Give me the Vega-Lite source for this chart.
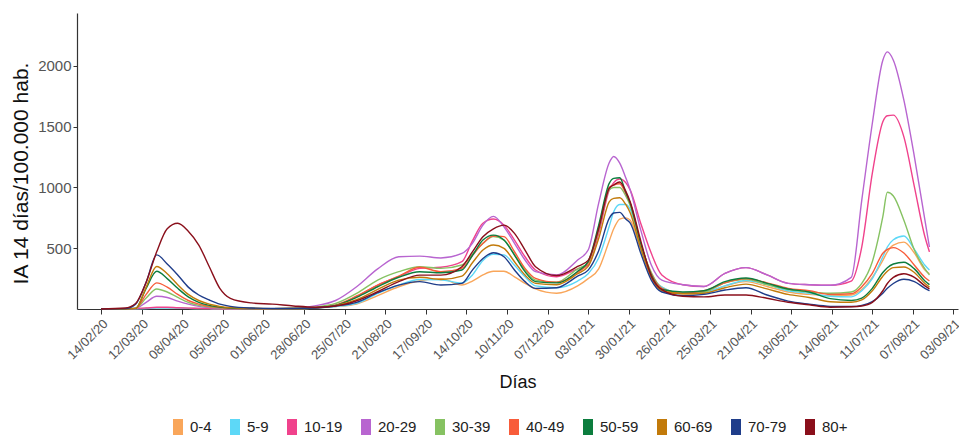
{
"$schema": "https://vega.github.io/schema/vega-lite/v6.json",
"width": 881, "height": 296,
"autosize": {"type": "none"},
"padding": {"left": 77, "top": 13, "right": 1, "bottom": 127},
"background": "white",
"config": {"view": {"stroke": null}, "font": "Liberation Sans"},
"data": {"values": [
{"g":"0-4","d":"2020-02-14","v":0},{"g":"0-4","d":"2020-03-01","v":1},{"g":"0-4","d":"2020-03-08","v":3},{"g":"0-4","d":"2020-03-15","v":6},{"g":"0-4","d":"2020-03-22","v":10},{"g":"0-4","d":"2020-03-29","v":10},{"g":"0-4","d":"2020-04-05","v":8},{"g":"0-4","d":"2020-04-12","v":6},{"g":"0-4","d":"2020-04-19","v":4},{"g":"0-4","d":"2020-04-26","v":3},{"g":"0-4","d":"2020-05-03","v":2},{"g":"0-4","d":"2020-05-10","v":2},{"g":"0-4","d":"2020-05-24","v":2},{"g":"0-4","d":"2020-06-07","v":2},{"g":"0-4","d":"2020-06-21","v":3},{"g":"0-4","d":"2020-07-05","v":8},{"g":"0-4","d":"2020-07-19","v":20},{"g":"0-4","d":"2020-08-02","v":41},{"g":"0-4","d":"2020-08-16","v":110},{"g":"0-4","d":"2020-08-30","v":183},{"g":"0-4","d":"2020-09-13","v":232},{"g":"0-4","d":"2020-09-27","v":250},{"g":"0-4","d":"2020-10-11","v":197},{"g":"0-4","d":"2020-10-18","v":230},{"g":"0-4","d":"2020-10-25","v":280},{"g":"0-4","d":"2020-11-01","v":310},{"g":"0-4","d":"2020-11-08","v":310},{"g":"0-4","d":"2020-11-15","v":265},{"g":"0-4","d":"2020-11-22","v":210},{"g":"0-4","d":"2020-11-29","v":165},{"g":"0-4","d":"2020-12-13","v":130},{"g":"0-4","d":"2020-12-27","v":190},{"g":"0-4","d":"2021-01-03","v":250},{"g":"0-4","d":"2021-01-10","v":330},{"g":"0-4","d":"2021-01-17","v":560},{"g":"0-4","d":"2021-01-20","v":660},{"g":"0-4","d":"2021-01-24","v":740},{"g":"0-4","d":"2021-01-28","v":750},{"g":"0-4","d":"2021-01-31","v":730},{"g":"0-4","d":"2021-02-07","v":490},{"g":"0-4","d":"2021-02-14","v":270},{"g":"0-4","d":"2021-02-21","v":180},{"g":"0-4","d":"2021-03-07","v":125},{"g":"0-4","d":"2021-03-21","v":130},{"g":"0-4","d":"2021-04-04","v":190},{"g":"0-4","d":"2021-04-18","v":225},{"g":"0-4","d":"2021-05-02","v":185},{"g":"0-4","d":"2021-05-16","v":140},{"g":"0-4","d":"2021-05-30","v":120},{"g":"0-4","d":"2021-06-13","v":110},{"g":"0-4","d":"2021-06-27","v":115},{"g":"0-4","d":"2021-07-04","v":160},{"g":"0-4","d":"2021-07-11","v":260},{"g":"0-4","d":"2021-07-18","v":400},{"g":"0-4","d":"2021-07-21","v":470},{"g":"0-4","d":"2021-07-25","v":525},{"g":"0-4","d":"2021-08-01","v":550},{"g":"0-4","d":"2021-08-08","v":460},{"g":"0-4","d":"2021-08-15","v":320},{"g":"0-4","d":"2021-08-18","v":290},
{"g":"5-9","d":"2020-02-14","v":0},{"g":"5-9","d":"2020-03-01","v":1},{"g":"5-9","d":"2020-03-08","v":2},{"g":"5-9","d":"2020-03-15","v":4},{"g":"5-9","d":"2020-03-22","v":7},{"g":"5-9","d":"2020-03-29","v":8},{"g":"5-9","d":"2020-04-05","v":7},{"g":"5-9","d":"2020-04-12","v":5},{"g":"5-9","d":"2020-04-19","v":4},{"g":"5-9","d":"2020-04-26","v":3},{"g":"5-9","d":"2020-05-03","v":2},{"g":"5-9","d":"2020-05-10","v":2},{"g":"5-9","d":"2020-05-24","v":2},{"g":"5-9","d":"2020-06-07","v":2},{"g":"5-9","d":"2020-06-21","v":3},{"g":"5-9","d":"2020-07-05","v":8},{"g":"5-9","d":"2020-07-19","v":20},{"g":"5-9","d":"2020-08-02","v":46},{"g":"5-9","d":"2020-08-16","v":128},{"g":"5-9","d":"2020-08-30","v":197},{"g":"5-9","d":"2020-09-13","v":243},{"g":"5-9","d":"2020-09-27","v":240},{"g":"5-9","d":"2020-10-11","v":215},{"g":"5-9","d":"2020-10-18","v":280},{"g":"5-9","d":"2020-10-25","v":400},{"g":"5-9","d":"2020-11-01","v":450},{"g":"5-9","d":"2020-11-08","v":445},{"g":"5-9","d":"2020-11-15","v":360},{"g":"5-9","d":"2020-11-22","v":265},{"g":"5-9","d":"2020-11-29","v":190},{"g":"5-9","d":"2020-12-13","v":175},{"g":"5-9","d":"2020-12-27","v":230},{"g":"5-9","d":"2021-01-03","v":290},{"g":"5-9","d":"2021-01-10","v":420},{"g":"5-9","d":"2021-01-17","v":680},{"g":"5-9","d":"2021-01-20","v":800},{"g":"5-9","d":"2021-01-24","v":860},{"g":"5-9","d":"2021-01-28","v":860},{"g":"5-9","d":"2021-01-31","v":820},{"g":"5-9","d":"2021-02-07","v":510},{"g":"5-9","d":"2021-02-14","v":290},{"g":"5-9","d":"2021-02-21","v":180},{"g":"5-9","d":"2021-03-07","v":130},{"g":"5-9","d":"2021-03-21","v":140},{"g":"5-9","d":"2021-04-04","v":190},{"g":"5-9","d":"2021-04-18","v":235},{"g":"5-9","d":"2021-05-02","v":200},{"g":"5-9","d":"2021-05-16","v":150},{"g":"5-9","d":"2021-05-30","v":130},{"g":"5-9","d":"2021-06-13","v":105},{"g":"5-9","d":"2021-06-27","v":100},{"g":"5-9","d":"2021-07-04","v":150},{"g":"5-9","d":"2021-07-11","v":250},{"g":"5-9","d":"2021-07-18","v":430},{"g":"5-9","d":"2021-07-21","v":510},{"g":"5-9","d":"2021-07-25","v":570},{"g":"5-9","d":"2021-08-01","v":600},{"g":"5-9","d":"2021-08-08","v":490},{"g":"5-9","d":"2021-08-15","v":360},{"g":"5-9","d":"2021-08-18","v":320},
{"g":"10-19","d":"2020-02-14","v":0},{"g":"10-19","d":"2020-03-01","v":1},{"g":"10-19","d":"2020-03-08","v":3},{"g":"10-19","d":"2020-03-15","v":8},{"g":"10-19","d":"2020-03-22","v":14},{"g":"10-19","d":"2020-03-29","v":14},{"g":"10-19","d":"2020-04-05","v":10},{"g":"10-19","d":"2020-04-12","v":7},{"g":"10-19","d":"2020-04-19","v":5},{"g":"10-19","d":"2020-04-26","v":3},{"g":"10-19","d":"2020-05-03","v":2},{"g":"10-19","d":"2020-05-10","v":2},{"g":"10-19","d":"2020-05-24","v":2},{"g":"10-19","d":"2020-06-07","v":2},{"g":"10-19","d":"2020-06-21","v":3},{"g":"10-19","d":"2020-07-05","v":10},{"g":"10-19","d":"2020-07-19","v":30},{"g":"10-19","d":"2020-08-02","v":101},{"g":"10-19","d":"2020-08-16","v":197},{"g":"10-19","d":"2020-08-30","v":266},{"g":"10-19","d":"2020-09-13","v":334},{"g":"10-19","d":"2020-09-27","v":343},{"g":"10-19","d":"2020-10-11","v":389},{"g":"10-19","d":"2020-10-18","v":560},{"g":"10-19","d":"2020-10-25","v":705},{"g":"10-19","d":"2020-11-01","v":740},{"g":"10-19","d":"2020-11-08","v":690},{"g":"10-19","d":"2020-11-15","v":567},{"g":"10-19","d":"2020-11-22","v":430},{"g":"10-19","d":"2020-11-29","v":321},{"g":"10-19","d":"2020-12-13","v":265},{"g":"10-19","d":"2020-12-27","v":330},{"g":"10-19","d":"2021-01-03","v":360},{"g":"10-19","d":"2021-01-10","v":620},{"g":"10-19","d":"2021-01-17","v":978},{"g":"10-19","d":"2021-01-20","v":1040},{"g":"10-19","d":"2021-01-24","v":1070},{"g":"10-19","d":"2021-01-28","v":1040},{"g":"10-19","d":"2021-01-31","v":978},{"g":"10-19","d":"2021-02-07","v":704},{"g":"10-19","d":"2021-02-14","v":458},{"g":"10-19","d":"2021-02-21","v":280},{"g":"10-19","d":"2021-03-07","v":200},{"g":"10-19","d":"2021-03-21","v":185},{"g":"10-19","d":"2021-04-04","v":293},{"g":"10-19","d":"2021-04-18","v":340},{"g":"10-19","d":"2021-05-02","v":280},{"g":"10-19","d":"2021-05-16","v":211},{"g":"10-19","d":"2021-05-30","v":200},{"g":"10-19","d":"2021-06-13","v":195},{"g":"10-19","d":"2021-06-27","v":230},{"g":"10-19","d":"2021-07-04","v":512},{"g":"10-19","d":"2021-07-11","v":1115},{"g":"10-19","d":"2021-07-18","v":1540},{"g":"10-19","d":"2021-07-21","v":1590},{"g":"10-19","d":"2021-07-25","v":1595},{"g":"10-19","d":"2021-08-01","v":1416},{"g":"10-19","d":"2021-08-08","v":1005},{"g":"10-19","d":"2021-08-15","v":594},{"g":"10-19","d":"2021-08-18","v":470},
{"g":"20-29","d":"2020-02-14","v":0},{"g":"20-29","d":"2020-03-01","v":1},{"g":"20-29","d":"2020-03-08","v":5},{"g":"20-29","d":"2020-03-15","v":55},{"g":"20-29","d":"2020-03-22","v":105},{"g":"20-29","d":"2020-03-29","v":95},{"g":"20-29","d":"2020-04-05","v":65},{"g":"20-29","d":"2020-04-12","v":40},{"g":"20-29","d":"2020-04-19","v":22},{"g":"20-29","d":"2020-04-26","v":12},{"g":"20-29","d":"2020-05-03","v":7},{"g":"20-29","d":"2020-05-10","v":4},{"g":"20-29","d":"2020-05-24","v":3},{"g":"20-29","d":"2020-06-07","v":3},{"g":"20-29","d":"2020-06-21","v":5},{"g":"20-29","d":"2020-07-05","v":25},{"g":"20-29","d":"2020-07-19","v":70},{"g":"20-29","d":"2020-08-02","v":183},{"g":"20-29","d":"2020-08-16","v":330},{"g":"20-29","d":"2020-08-30","v":430},{"g":"20-29","d":"2020-09-13","v":435},{"g":"20-29","d":"2020-09-27","v":420},{"g":"20-29","d":"2020-10-11","v":457},{"g":"20-29","d":"2020-10-18","v":540},{"g":"20-29","d":"2020-10-25","v":690},{"g":"20-29","d":"2020-11-01","v":762},{"g":"20-29","d":"2020-11-08","v":676},{"g":"20-29","d":"2020-11-15","v":540},{"g":"20-29","d":"2020-11-22","v":403},{"g":"20-29","d":"2020-11-29","v":307},{"g":"20-29","d":"2020-12-13","v":280},{"g":"20-29","d":"2020-12-27","v":403},{"g":"20-29","d":"2021-01-03","v":485},{"g":"20-29","d":"2021-01-10","v":871},{"g":"20-29","d":"2021-01-17","v":1203},{"g":"20-29","d":"2021-01-20","v":1255},{"g":"20-29","d":"2021-01-24","v":1200},{"g":"20-29","d":"2021-01-28","v":1080},{"g":"20-29","d":"2021-01-31","v":978},{"g":"20-29","d":"2021-02-07","v":649},{"g":"20-29","d":"2021-02-14","v":362},{"g":"20-29","d":"2021-02-21","v":238},{"g":"20-29","d":"2021-03-07","v":200},{"g":"20-29","d":"2021-03-21","v":185},{"g":"20-29","d":"2021-04-04","v":293},{"g":"20-29","d":"2021-04-18","v":340},{"g":"20-29","d":"2021-05-02","v":280},{"g":"20-29","d":"2021-05-16","v":211},{"g":"20-29","d":"2021-05-30","v":200},{"g":"20-29","d":"2021-06-13","v":195},{"g":"20-29","d":"2021-06-27","v":260},{"g":"20-29","d":"2021-07-04","v":896},{"g":"20-29","d":"2021-07-11","v":1526},{"g":"20-29","d":"2021-07-18","v":2047},{"g":"20-29","d":"2021-07-21","v":2115},{"g":"20-29","d":"2021-07-25","v":2047},{"g":"20-29","d":"2021-08-01","v":1718},{"g":"20-29","d":"2021-08-08","v":1252},{"g":"20-29","d":"2021-08-15","v":731},{"g":"20-29","d":"2021-08-18","v":510},
{"g":"30-39","d":"2020-02-14","v":0},{"g":"30-39","d":"2020-03-01","v":1},{"g":"30-39","d":"2020-03-08","v":5},{"g":"30-39","d":"2020-03-15","v":90},{"g":"30-39","d":"2020-03-22","v":165},{"g":"30-39","d":"2020-03-29","v":140},{"g":"30-39","d":"2020-04-05","v":95},{"g":"30-39","d":"2020-04-12","v":55},{"g":"30-39","d":"2020-04-19","v":30},{"g":"30-39","d":"2020-04-26","v":17},{"g":"30-39","d":"2020-05-03","v":9},{"g":"30-39","d":"2020-05-10","v":5},{"g":"30-39","d":"2020-05-24","v":3},{"g":"30-39","d":"2020-06-07","v":3},{"g":"30-39","d":"2020-06-21","v":4},{"g":"30-39","d":"2020-07-05","v":15},{"g":"30-39","d":"2020-07-19","v":45},{"g":"30-39","d":"2020-08-02","v":128},{"g":"30-39","d":"2020-08-16","v":238},{"g":"30-39","d":"2020-08-30","v":307},{"g":"30-39","d":"2020-09-13","v":348},{"g":"30-39","d":"2020-09-27","v":334},{"g":"30-39","d":"2020-10-11","v":362},{"g":"30-39","d":"2020-10-18","v":450},{"g":"30-39","d":"2020-10-25","v":540},{"g":"30-39","d":"2020-11-01","v":595},{"g":"30-39","d":"2020-11-08","v":567},{"g":"30-39","d":"2020-11-15","v":444},{"g":"30-39","d":"2020-11-22","v":321},{"g":"30-39","d":"2020-11-29","v":238},{"g":"30-39","d":"2020-12-13","v":220},{"g":"30-39","d":"2020-12-27","v":330},{"g":"30-39","d":"2021-01-03","v":380},{"g":"30-39","d":"2021-01-10","v":650},{"g":"30-39","d":"2021-01-17","v":980},{"g":"30-39","d":"2021-01-20","v":1000},{"g":"30-39","d":"2021-01-24","v":1000},{"g":"30-39","d":"2021-01-28","v":930},{"g":"30-39","d":"2021-01-31","v":850},{"g":"30-39","d":"2021-02-07","v":530},{"g":"30-39","d":"2021-02-14","v":300},{"g":"30-39","d":"2021-02-21","v":170},{"g":"30-39","d":"2021-03-07","v":130},{"g":"30-39","d":"2021-03-21","v":140},{"g":"30-39","d":"2021-04-04","v":215},{"g":"30-39","d":"2021-04-18","v":245},{"g":"30-39","d":"2021-05-02","v":200},{"g":"30-39","d":"2021-05-16","v":160},{"g":"30-39","d":"2021-05-30","v":140},{"g":"30-39","d":"2021-06-13","v":130},{"g":"30-39","d":"2021-06-27","v":140},{"g":"30-39","d":"2021-07-04","v":211},{"g":"30-39","d":"2021-07-11","v":389},{"g":"30-39","d":"2021-07-18","v":760},{"g":"30-39","d":"2021-07-21","v":960},{"g":"30-39","d":"2021-07-25","v":930},{"g":"30-39","d":"2021-08-01","v":731},{"g":"30-39","d":"2021-08-08","v":485},{"g":"30-39","d":"2021-08-15","v":330},{"g":"30-39","d":"2021-08-18","v":280},
{"g":"40-49","d":"2020-02-14","v":0},{"g":"40-49","d":"2020-03-01","v":1},{"g":"40-49","d":"2020-03-08","v":5},{"g":"40-49","d":"2020-03-15","v":120},{"g":"40-49","d":"2020-03-22","v":215},{"g":"40-49","d":"2020-03-29","v":180},{"g":"40-49","d":"2020-04-05","v":120},{"g":"40-49","d":"2020-04-12","v":70},{"g":"40-49","d":"2020-04-19","v":40},{"g":"40-49","d":"2020-04-26","v":22},{"g":"40-49","d":"2020-05-03","v":12},{"g":"40-49","d":"2020-05-10","v":6},{"g":"40-49","d":"2020-05-24","v":4},{"g":"40-49","d":"2020-06-07","v":3},{"g":"40-49","d":"2020-06-21","v":4},{"g":"40-49","d":"2020-07-05","v":10},{"g":"40-49","d":"2020-07-19","v":32},{"g":"40-49","d":"2020-08-02","v":107},{"g":"40-49","d":"2020-08-16","v":197},{"g":"40-49","d":"2020-08-30","v":271},{"g":"40-49","d":"2020-09-13","v":343},{"g":"40-49","d":"2020-09-27","v":307},{"g":"40-49","d":"2020-10-11","v":334},{"g":"40-49","d":"2020-10-18","v":440},{"g":"40-49","d":"2020-10-25","v":540},{"g":"40-49","d":"2020-11-01","v":600},{"g":"40-49","d":"2020-11-08","v":595},{"g":"40-49","d":"2020-11-15","v":471},{"g":"40-49","d":"2020-11-22","v":334},{"g":"40-49","d":"2020-11-29","v":252},{"g":"40-49","d":"2020-12-13","v":220},{"g":"40-49","d":"2020-12-27","v":300},{"g":"40-49","d":"2021-01-03","v":380},{"g":"40-49","d":"2021-01-10","v":670},{"g":"40-49","d":"2021-01-17","v":1000},{"g":"40-49","d":"2021-01-20","v":1020},{"g":"40-49","d":"2021-01-24","v":1030},{"g":"40-49","d":"2021-01-28","v":950},{"g":"40-49","d":"2021-01-31","v":870},{"g":"40-49","d":"2021-02-07","v":540},{"g":"40-49","d":"2021-02-14","v":290},{"g":"40-49","d":"2021-02-21","v":170},{"g":"40-49","d":"2021-03-07","v":130},{"g":"40-49","d":"2021-03-21","v":150},{"g":"40-49","d":"2021-04-04","v":215},{"g":"40-49","d":"2021-04-18","v":250},{"g":"40-49","d":"2021-05-02","v":215},{"g":"40-49","d":"2021-05-16","v":170},{"g":"40-49","d":"2021-05-30","v":150},{"g":"40-49","d":"2021-06-13","v":120},{"g":"40-49","d":"2021-06-27","v":125},{"g":"40-49","d":"2021-07-04","v":183},{"g":"40-49","d":"2021-07-11","v":293},{"g":"40-49","d":"2021-07-18","v":458},{"g":"40-49","d":"2021-07-21","v":490},{"g":"40-49","d":"2021-07-25","v":505},{"g":"40-49","d":"2021-08-01","v":460},{"g":"40-49","d":"2021-08-08","v":360},{"g":"40-49","d":"2021-08-15","v":260},{"g":"40-49","d":"2021-08-18","v":230},
{"g":"50-59","d":"2020-02-14","v":0},{"g":"50-59","d":"2020-03-01","v":1},{"g":"50-59","d":"2020-03-08","v":5},{"g":"50-59","d":"2020-03-15","v":170},{"g":"50-59","d":"2020-03-22","v":310},{"g":"50-59","d":"2020-03-29","v":250},{"g":"50-59","d":"2020-04-05","v":170},{"g":"50-59","d":"2020-04-12","v":100},{"g":"50-59","d":"2020-04-19","v":55},{"g":"50-59","d":"2020-04-26","v":30},{"g":"50-59","d":"2020-05-03","v":15},{"g":"50-59","d":"2020-05-10","v":8},{"g":"50-59","d":"2020-05-24","v":4},{"g":"50-59","d":"2020-06-07","v":3},{"g":"50-59","d":"2020-06-21","v":4},{"g":"50-59","d":"2020-07-05","v":10},{"g":"50-59","d":"2020-07-19","v":30},{"g":"50-59","d":"2020-08-02","v":96},{"g":"50-59","d":"2020-08-16","v":183},{"g":"50-59","d":"2020-08-30","v":261},{"g":"50-59","d":"2020-09-13","v":307},{"g":"50-59","d":"2020-09-27","v":298},{"g":"50-59","d":"2020-10-11","v":321},{"g":"50-59","d":"2020-10-18","v":440},{"g":"50-59","d":"2020-10-25","v":567},{"g":"50-59","d":"2020-11-01","v":608},{"g":"50-59","d":"2020-11-08","v":567},{"g":"50-59","d":"2020-11-15","v":444},{"g":"50-59","d":"2020-11-22","v":307},{"g":"50-59","d":"2020-11-29","v":225},{"g":"50-59","d":"2020-12-13","v":215},{"g":"50-59","d":"2020-12-27","v":310},{"g":"50-59","d":"2021-01-03","v":390},{"g":"50-59","d":"2021-01-10","v":690},{"g":"50-59","d":"2021-01-17","v":1033},{"g":"50-59","d":"2021-01-20","v":1075},{"g":"50-59","d":"2021-01-24","v":1080},{"g":"50-59","d":"2021-01-28","v":960},{"g":"50-59","d":"2021-01-31","v":869},{"g":"50-59","d":"2021-02-07","v":540},{"g":"50-59","d":"2021-02-14","v":280},{"g":"50-59","d":"2021-02-21","v":160},{"g":"50-59","d":"2021-03-07","v":140},{"g":"50-59","d":"2021-03-21","v":150},{"g":"50-59","d":"2021-04-04","v":225},{"g":"50-59","d":"2021-04-18","v":255},{"g":"50-59","d":"2021-05-02","v":211},{"g":"50-59","d":"2021-05-16","v":165},{"g":"50-59","d":"2021-05-30","v":140},{"g":"50-59","d":"2021-06-13","v":85},{"g":"50-59","d":"2021-06-27","v":70},{"g":"50-59","d":"2021-07-04","v":90},{"g":"50-59","d":"2021-07-11","v":170},{"g":"50-59","d":"2021-07-18","v":300},{"g":"50-59","d":"2021-07-21","v":340},{"g":"50-59","d":"2021-07-25","v":370},{"g":"50-59","d":"2021-08-01","v":385},{"g":"50-59","d":"2021-08-08","v":330},{"g":"50-59","d":"2021-08-15","v":230},{"g":"50-59","d":"2021-08-18","v":200},
{"g":"60-69","d":"2020-02-14","v":0},{"g":"60-69","d":"2020-03-01","v":1},{"g":"60-69","d":"2020-03-08","v":5},{"g":"60-69","d":"2020-03-15","v":180},{"g":"60-69","d":"2020-03-22","v":350},{"g":"60-69","d":"2020-03-29","v":290},{"g":"60-69","d":"2020-04-05","v":200},{"g":"60-69","d":"2020-04-12","v":120},{"g":"60-69","d":"2020-04-19","v":70},{"g":"60-69","d":"2020-04-26","v":40},{"g":"60-69","d":"2020-05-03","v":22},{"g":"60-69","d":"2020-05-10","v":12},{"g":"60-69","d":"2020-05-24","v":5},{"g":"60-69","d":"2020-06-07","v":3},{"g":"60-69","d":"2020-06-21","v":4},{"g":"60-69","d":"2020-07-05","v":8},{"g":"60-69","d":"2020-07-19","v":28},{"g":"60-69","d":"2020-08-02","v":77},{"g":"60-69","d":"2020-08-16","v":161},{"g":"60-69","d":"2020-08-30","v":238},{"g":"60-69","d":"2020-09-13","v":261},{"g":"60-69","d":"2020-09-27","v":243},{"g":"60-69","d":"2020-10-11","v":271},{"g":"60-69","d":"2020-10-18","v":380},{"g":"60-69","d":"2020-10-25","v":485},{"g":"60-69","d":"2020-11-01","v":526},{"g":"60-69","d":"2020-11-08","v":499},{"g":"60-69","d":"2020-11-15","v":389},{"g":"60-69","d":"2020-11-22","v":279},{"g":"60-69","d":"2020-11-29","v":211},{"g":"60-69","d":"2020-12-13","v":200},{"g":"60-69","d":"2020-12-27","v":290},{"g":"60-69","d":"2021-01-03","v":350},{"g":"60-69","d":"2021-01-10","v":580},{"g":"60-69","d":"2021-01-17","v":882},{"g":"60-69","d":"2021-01-20","v":910},{"g":"60-69","d":"2021-01-24","v":915},{"g":"60-69","d":"2021-01-28","v":860},{"g":"60-69","d":"2021-01-31","v":789},{"g":"60-69","d":"2021-02-07","v":500},{"g":"60-69","d":"2021-02-14","v":260},{"g":"60-69","d":"2021-02-21","v":150},{"g":"60-69","d":"2021-03-07","v":125},{"g":"60-69","d":"2021-03-21","v":130},{"g":"60-69","d":"2021-04-04","v":175},{"g":"60-69","d":"2021-04-18","v":205},{"g":"60-69","d":"2021-05-02","v":165},{"g":"60-69","d":"2021-05-16","v":120},{"g":"60-69","d":"2021-05-30","v":95},{"g":"60-69","d":"2021-06-13","v":60},{"g":"60-69","d":"2021-06-27","v":55},{"g":"60-69","d":"2021-07-04","v":75},{"g":"60-69","d":"2021-07-11","v":150},{"g":"60-69","d":"2021-07-18","v":270},{"g":"60-69","d":"2021-07-21","v":310},{"g":"60-69","d":"2021-07-25","v":340},{"g":"60-69","d":"2021-08-01","v":345},{"g":"60-69","d":"2021-08-08","v":300},{"g":"60-69","d":"2021-08-15","v":210},{"g":"60-69","d":"2021-08-18","v":180},
{"g":"70-79","d":"2020-02-14","v":0},{"g":"70-79","d":"2020-03-01","v":3},{"g":"70-79","d":"2020-03-08","v":40},{"g":"70-79","d":"2020-03-15","v":220},{"g":"70-79","d":"2020-03-22","v":445},{"g":"70-79","d":"2020-03-29","v":370},{"g":"70-79","d":"2020-04-05","v":280},{"g":"70-79","d":"2020-04-12","v":180},{"g":"70-79","d":"2020-04-19","v":115},{"g":"70-79","d":"2020-04-26","v":74},{"g":"70-79","d":"2020-05-03","v":40},{"g":"70-79","d":"2020-05-10","v":22},{"g":"70-79","d":"2020-05-24","v":8},{"g":"70-79","d":"2020-06-07","v":4},{"g":"70-79","d":"2020-06-21","v":4},{"g":"70-79","d":"2020-07-05","v":8},{"g":"70-79","d":"2020-07-19","v":25},{"g":"70-79","d":"2020-08-02","v":55},{"g":"70-79","d":"2020-08-16","v":134},{"g":"70-79","d":"2020-08-30","v":197},{"g":"70-79","d":"2020-09-13","v":225},{"g":"70-79","d":"2020-09-27","v":197},{"g":"70-79","d":"2020-10-11","v":211},{"g":"70-79","d":"2020-10-18","v":320},{"g":"70-79","d":"2020-10-25","v":416},{"g":"70-79","d":"2020-11-01","v":463},{"g":"70-79","d":"2020-11-08","v":430},{"g":"70-79","d":"2020-11-15","v":321},{"g":"70-79","d":"2020-11-22","v":225},{"g":"70-79","d":"2020-11-29","v":170},{"g":"70-79","d":"2020-12-13","v":175},{"g":"70-79","d":"2020-12-27","v":270},{"g":"70-79","d":"2021-01-03","v":320},{"g":"70-79","d":"2021-01-10","v":480},{"g":"70-79","d":"2021-01-17","v":746},{"g":"70-79","d":"2021-01-20","v":790},{"g":"70-79","d":"2021-01-24","v":795},{"g":"70-79","d":"2021-01-28","v":740},{"g":"70-79","d":"2021-01-31","v":707},{"g":"70-79","d":"2021-02-07","v":458},{"g":"70-79","d":"2021-02-14","v":238},{"g":"70-79","d":"2021-02-21","v":140},{"g":"70-79","d":"2021-03-07","v":110},{"g":"70-79","d":"2021-03-21","v":120},{"g":"70-79","d":"2021-04-04","v":156},{"g":"70-79","d":"2021-04-18","v":175},{"g":"70-79","d":"2021-05-02","v":115},{"g":"70-79","d":"2021-05-16","v":65},{"g":"70-79","d":"2021-05-30","v":40},{"g":"70-79","d":"2021-06-13","v":22},{"g":"70-79","d":"2021-06-27","v":20},{"g":"70-79","d":"2021-07-04","v":30},{"g":"70-79","d":"2021-07-11","v":60},{"g":"70-79","d":"2021-07-18","v":130},{"g":"70-79","d":"2021-07-21","v":170},{"g":"70-79","d":"2021-07-25","v":210},{"g":"70-79","d":"2021-08-01","v":245},{"g":"70-79","d":"2021-08-08","v":225},{"g":"70-79","d":"2021-08-15","v":170},{"g":"70-79","d":"2021-08-18","v":150},
{"g":"80+","d":"2020-02-14","v":0},{"g":"80+","d":"2020-03-01","v":8},{"g":"80+","d":"2020-03-08","v":45},{"g":"80+","d":"2020-03-15","v":220},{"g":"80+","d":"2020-03-22","v":470},{"g":"80+","d":"2020-03-29","v":660},{"g":"80+","d":"2020-04-05","v":705},{"g":"80+","d":"2020-04-12","v":640},{"g":"80+","d":"2020-04-19","v":526},{"g":"80+","d":"2020-04-26","v":348},{"g":"80+","d":"2020-05-03","v":170},{"g":"80+","d":"2020-05-10","v":88},{"g":"80+","d":"2020-05-24","v":50},{"g":"80+","d":"2020-06-07","v":40},{"g":"80+","d":"2020-06-21","v":25},{"g":"80+","d":"2020-07-05","v":15},{"g":"80+","d":"2020-07-19","v":25},{"g":"80+","d":"2020-08-02","v":68},{"g":"80+","d":"2020-08-16","v":142},{"g":"80+","d":"2020-08-30","v":225},{"g":"80+","d":"2020-09-13","v":279},{"g":"80+","d":"2020-09-27","v":279},{"g":"80+","d":"2020-10-11","v":348},{"g":"80+","d":"2020-10-18","v":470},{"g":"80+","d":"2020-10-25","v":595},{"g":"80+","d":"2020-11-01","v":660},{"g":"80+","d":"2020-11-08","v":690},{"g":"80+","d":"2020-11-15","v":622},{"g":"80+","d":"2020-11-22","v":485},{"g":"80+","d":"2020-11-29","v":348},{"g":"80+","d":"2020-12-13","v":275},{"g":"80+","d":"2020-12-27","v":350},{"g":"80+","d":"2021-01-03","v":400},{"g":"80+","d":"2021-01-10","v":660},{"g":"80+","d":"2021-01-17","v":992},{"g":"80+","d":"2021-01-20","v":1020},{"g":"80+","d":"2021-01-24","v":1045},{"g":"80+","d":"2021-01-28","v":970},{"g":"80+","d":"2021-01-31","v":880},{"g":"80+","d":"2021-02-07","v":560},{"g":"80+","d":"2021-02-14","v":270},{"g":"80+","d":"2021-02-21","v":160},{"g":"80+","d":"2021-03-07","v":105},{"g":"80+","d":"2021-03-21","v":100},{"g":"80+","d":"2021-04-04","v":115},{"g":"80+","d":"2021-04-18","v":115},{"g":"80+","d":"2021-05-02","v":88},{"g":"80+","d":"2021-05-16","v":55},{"g":"80+","d":"2021-05-30","v":35},{"g":"80+","d":"2021-06-13","v":15},{"g":"80+","d":"2021-06-27","v":18},{"g":"80+","d":"2021-07-04","v":25},{"g":"80+","d":"2021-07-11","v":55},{"g":"80+","d":"2021-07-18","v":150},{"g":"80+","d":"2021-07-21","v":210},{"g":"80+","d":"2021-07-25","v":260},{"g":"80+","d":"2021-08-01","v":290},{"g":"80+","d":"2021-08-08","v":260},{"g":"80+","d":"2021-08-15","v":190},{"g":"80+","d":"2021-08-18","v":165}
]},
"mark": {"type": "line", "interpolate": "monotone", "strokeWidth": 1.4},
"encoding": {
  "x": {"field": "d", "type": "temporal",
    "scale": {"type": "utc", "nice": false, "domain": [{"year": 2020, "month": 1, "date": 29, "utc": true}, {"year": 2021, "month": 9, "date": 6, "utc": true}]},
    "axis": {"title": "Días", "labelExpr": "utcFormat(datum.value, '%d/%m/%y')", "labelAngle": -45, "labelAlign": "right", "labelBaseline": "top", "labelFontSize": 13, "labelColor": "#555555", "labelPadding": 3,
      "values": [{"year":2020,"month":2,"date":14,"utc":true},{"year":2020,"month":3,"date":12,"utc":true},{"year":2020,"month":4,"date":8,"utc":true},{"year":2020,"month":5,"date":5,"utc":true},{"year":2020,"month":6,"date":1,"utc":true},{"year":2020,"month":6,"date":28,"utc":true},{"year":2020,"month":7,"date":25,"utc":true},{"year":2020,"month":8,"date":21,"utc":true},{"year":2020,"month":9,"date":17,"utc":true},{"year":2020,"month":10,"date":14,"utc":true},{"year":2020,"month":11,"date":10,"utc":true},{"year":2020,"month":12,"date":7,"utc":true},{"year":2021,"month":1,"date":3,"utc":true},{"year":2021,"month":1,"date":30,"utc":true},{"year":2021,"month":2,"date":26,"utc":true},{"year":2021,"month":3,"date":25,"utc":true},{"year":2021,"month":4,"date":21,"utc":true},{"year":2021,"month":5,"date":18,"utc":true},{"year":2021,"month":6,"date":14,"utc":true},{"year":2021,"month":7,"date":11,"utc":true},{"year":2021,"month":8,"date":7,"utc":true},{"year":2021,"month":9,"date":3,"utc":true}],
      "grid": false, "domainColor": "#333333", "domainWidth": 1.2, "tickColor": "#333333", "tickSize": 5, "titleFontSize": 18, "titleFontWeight": "normal", "titleColor": "#111111", "titlePadding": 12, "labelOverlap": false, "labelBound": false, "labelFlush": false}},
  "y": {"field": "v", "type": "quantitative",
    "scale": {"domain": [0, 2435], "nice": false},
    "axis": {"title": "IA 14 días/100.000 hab.", "format": "d", "values": [500, 1000, 1500, 2000], "grid": false, "labelFontSize": 15, "labelColor": "#555555", "domainColor": "#333333", "domainWidth": 1.2, "tickColor": "#333333", "tickSize": 4, "labelPadding": 2, "titleFontSize": 21, "titleFontWeight": "normal", "titleColor": "#111111", "titlePadding": 6, "titleY": 160}},
  "color": {"field": "g", "type": "nominal",
    "scale": {"domain": ["0-4","5-9","10-19","20-29","30-39","40-49","50-59","60-69","70-79","80+"],
              "range": ["#F9A65A","#5DD8F7","#F0428C","#B865D0","#86C262","#F85C3A","#0C7D3E","#C27A0A","#1F3D8A","#8A0F1B"]},
    "legend": {"orient": "none", "legendX": 93, "legendY": 406, "direction": "horizontal", "title": null,
      "symbolType": "M-0.625,-1H0.625V1H-0.625Z", "symbolSize": 256, "symbolStrokeWidth": 0, "symbolOpacity": 1,
      "labelFontSize": 15, "labelColor": "#222222", "labelOffset": 4, "columnPadding": 15,
      "encode": {"symbols": {"update": {"fill": {"scale": "color", "field": "value"}, "strokeWidth": {"value": 0}, "opacity": {"value": 1}}}}}}
}
}
